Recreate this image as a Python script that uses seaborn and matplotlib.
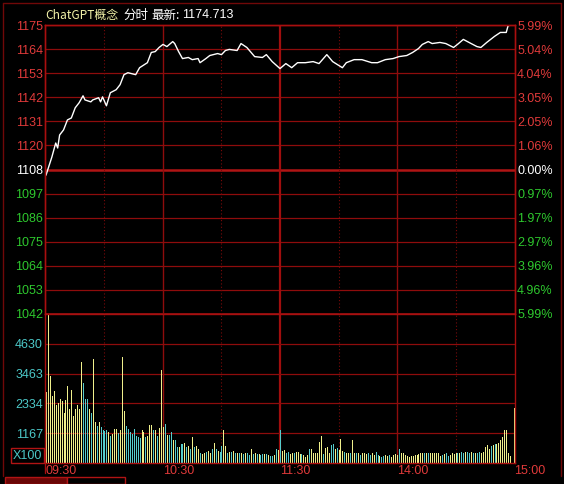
import numpy as np
import pandas as pd
import seaborn as sns
import matplotlib.pyplot as plt
from matplotlib.patches import Rectangle
from matplotlib.lines import Line2D

# ---- data ----
pre_close = 1108.33
limit_pct = 5.99
last_price = '1174.713'

price_minutes = [0, 3, 5, 6, 7, 9, 11, 13, 15, 17, 19, 20, 23, 24, 27, 28, 29, 31, 33, 36,
                 38, 40, 42, 46, 48, 52, 54, 56, 58, 60, 62, 65, 66, 68, 70, 73, 75, 78, 79, 82,
                 84, 88, 90, 92, 94, 98, 100, 103, 107, 111, 113, 116, 120, 123, 126, 129, 133, 137, 140, 144,
                 147, 152, 154, 158, 162, 167, 170, 174, 178, 181, 185, 188, 191, 193, 196, 198, 202, 205, 209, 211,
                 214, 218, 221, 223, 226, 230, 233, 236, 237, 240]
prices = [1105.7, 1114.0, 1120.5, 1118.2, 1124.2, 1126.5, 1131.1, 1132.0, 1136.7, 1139.0,
          1142.2, 1140.3, 1139.4, 1140.3, 1141.3, 1139.4, 1141.7, 1137.6, 1143.6, 1145.0,
          1147.3, 1151.9, 1152.8, 1151.9, 1155.1, 1157.4, 1162.1, 1162.5, 1164.4, 1165.8,
          1164.8, 1167.1, 1166.2, 1162.5, 1159.3, 1159.8, 1158.8, 1159.3, 1157.4, 1159.3,
          1160.7, 1161.6, 1161.1, 1163.0, 1163.5, 1163.0, 1166.2, 1164.4, 1160.2, 1159.8,
          1161.1, 1157.9, 1154.7, 1157.0, 1155.1, 1157.4, 1157.4, 1157.9, 1157.0, 1161.1,
          1157.9, 1155.1, 1157.4, 1158.8, 1158.8, 1157.4, 1157.4, 1158.8, 1159.3, 1160.2,
          1160.7, 1162.1, 1163.9, 1165.8, 1167.1, 1166.2, 1166.7, 1166.2, 1164.4, 1165.8,
          1168.1, 1166.2, 1164.8, 1164.4, 1166.7, 1169.5, 1171.3, 1171.3, 1174.5, 1174.713]

volumes = [2740, 5790, 3370, 2610, 2800, 2250, 2350, 2500, 2420, 1950,
           2450, 3010, 2090, 2850, 1820, 2110, 2250, 2110, 3910, 3120,
           2500, 2500, 2110, 1950, 4030, 1610, 1450, 1580, 1400, 1290,
           1230, 1270, 1190, 1060, 1140, 1320, 1320, 1160, 1270, 4130,
           2010, 1430, 1320, 1190, 1140, 1320, 1060, 1000, 960, 1270,
           1190, 1000, 1030, 1490, 1490, 1290, 1270, 1060, 1350, 3630,
           1400, 1500, 1090, 1100, 1210, 900, 900, 630, 630, 740,
           720, 770, 630, 660, 530, 1000, 630, 660, 530, 370,
           340, 370, 440, 450, 400, 530, 770, 530, 475, 440,
           660, 1290, 660, 370, 420, 440, 475, 370, 400, 370,
           370, 340, 370, 370, 300, 530, 340, 400, 340, 340,
           300, 340, 340, 340, 300, 260, 290, 300, 550, 500,
           1290, 475, 500, 370, 440, 340, 400, 370, 420, 440,
           340, 340, 300, 240, 300, 550, 530, 370, 370, 370,
           830, 1060, 340, 570, 610, 400, 690, 740, 530, 580,
           500, 920, 475, 440, 400, 400, 400, 900, 400, 370,
           370, 300, 370, 400, 340, 370, 300, 370, 300, 420,
           300, 260, 240, 260, 300, 260, 300, 240, 300, 340,
           300, 530, 370, 400, 300, 260, 240, 260, 260, 300,
           300, 340, 370, 370, 400, 370, 400, 400, 370, 370,
           370, 370, 260, 300, 340, 370, 260, 300, 370, 340,
           400, 370, 400, 440, 400, 440, 440, 400, 440, 400,
           400, 400, 440, 400, 440, 630, 700, 530, 660, 700,
           740, 740, 790, 900, 1000, 1270, 1270, 370, 270, 0,
           2150]
# y = rising minute (yellow), c = falling minute (cyan)
bar_dirs = ("yyyyyyyyyy" "yyyyyyyyyc" "ccycyycycc" "ccycyyycyy" "yccccccccy"
            "ycyyycycyy" "ycyccyccyc" "cycycycyyc" "yycyycycyc" "cyycycycyc"
            "ycyccycycy" "ccycyccycy" "cyyccyycyy" "ycyyycyyyy" "yycyyyccyc"
            "yyycyycyyc" "ycyyyccyyc" "cyccyycyyy" "ycyyyyyyyy" "yyyycycyyy"
            "yyycyccyyy" "ycyccyccyc" "yccyyyyycy" "cyyyyyyyyy" "y")

price_labels = ['1175', '1164', '1153', '1142', '1131', '1120', '1108',
                '1097', '1086', '1075', '1064', '1053', '1042']
pct_labels = ['5.99%', '5.04%', '4.04%', '3.05%', '2.05%', '1.06%', '0.00%',
              '0.97%', '1.97%', '2.97%', '3.96%', '4.96%', '5.99%']
vol_labels = ['1167', '2334', '3463', '4630']
vol_max = 5790
time_ticks = [0, 60, 120, 180, 240]
time_labels = ['09:30', '10:30', '11:30', '14:00', '15:00']

# ---- style ----
RED_GRID = '#8e0c0c'
RED_TXT = '#e03a3a'
GREEN_TXT = '#2ec82e'
CYAN_TXT = '#4cc8c8'
YELLOW_BAR = '#f0f08c'
CYAN_BAR = '#56cccc'

sns.set_style('dark', {'axes.facecolor': 'black', 'figure.facecolor': 'black'})
plt.rcParams['font.family'] = ['Liberation Sans', 'DejaVu Sans']

fig = plt.figure(figsize=(5.64, 4.84), dpi=100, facecolor='black')
W, H = 564, 484
ax1 = fig.add_axes([45 / W, 1 - 314 / H, 470 / W, 289 / H])
ax2 = fig.add_axes([45 / W, 1 - 463 / H, 470 / W, 149 / H], sharex=ax1)

lo = pre_close * (1 - limit_pct / 100)
hi = pre_close * (1 + limit_pct / 100)
levels = np.linspace(hi, lo, 13)

# price panel
for i, lv in enumerate(levels):
    lw = 1.8 if i in (6, 12) else 0.9
    col = '#b01414' if i in (6, 12) else RED_GRID
    ax1.axhline(lv, color=col, lw=lw, zorder=0.5)
for ax in (ax1, ax2):
    for m in (30, 90, 150, 210):
        ax.axvline(m, color='#7a0a0a', lw=0.8, ls=(0, (1, 2)), zorder=0.5)
    for m in (60, 180):
        ax.axvline(m, color=RED_GRID, lw=1.0, zorder=0.5)
    ax.axvline(120, color='#a00e0e', lw=1.6, zorder=0.5)

sns.lineplot(x=price_minutes, y=prices, ax=ax1, color='white', linewidth=1.0, zorder=3)
ax1.set_ylim(lo, hi)
ax1.set_xlim(-0.5, 240.5)
ax1.set_yticks(levels, price_labels)
colors_lbl = [RED_TXT] * 6 + ['white'] + [GREEN_TXT] * 6
for t, c in zip(ax1.get_yticklabels(), colors_lbl):
    t.set_color(c)
ax1.tick_params(axis='y', length=0, pad=1.5, labelsize=9)
ax1.tick_params(axis='x', length=0, labelbottom=False)
ax1.set_xlabel('')
ax1.set_ylabel('')

axr = ax1.twinx()
axr.set_ylim(lo, hi)
axr.set_yticks(levels, pct_labels)
for t, c in zip(axr.get_yticklabels(), colors_lbl):
    t.set_color(c)
axr.tick_params(axis='y', length=0, pad=1.5, labelsize=9)
axr.grid(False)

# volume panel: one-pixel bars, yellow for up minutes, cyan for down minutes
vol_df = pd.DataFrame({'minute': np.arange(len(volumes)), 'volume': volumes,
                       'dir': list(bar_dirs)})
bar_colors = vol_df['dir'].map({'y': YELLOW_BAR, 'c': CYAN_BAR})
ax2.vlines(vol_df['minute'], 0, vol_df['volume'], colors=bar_colors,
           linewidth=0.5, antialiased=False, zorder=2)
ax2.set_ylim(0, vol_max)
ax2.set_xlim(-0.5, 240.5)
vol_pos = [vol_max * k / 5 for k in range(1, 5)]
for v in vol_pos:
    ax2.axhline(v, color=RED_GRID, lw=0.9, zorder=0.5)
ax2.set_yticks(vol_pos, vol_labels)
for t in ax2.get_yticklabels():
    t.set_color(CYAN_TXT)
ax2.set_xticks(time_ticks, time_labels)
for t in ax2.get_xticklabels():
    t.set_color(RED_TXT)
    t.set_ha('left')
ax2.tick_params(axis='y', length=0, pad=1.5, labelsize=9)
ax2.tick_params(axis='x', length=0, pad=1.5, labelsize=9)
ax2.set_xlabel('')
ax2.set_ylabel('')
ax2.text(-0.006, 0.05, 'X100', transform=ax2.transAxes, ha='right', va='center',
         color=CYAN_TXT, fontsize=9,
         bbox=dict(facecolor='black', edgecolor='#b01414', pad=1.2, lw=1))

for ax in (ax1, ax2, axr):
    for s in ax.spines.values():
        s.set_color('#a80f0f')
        s.set_linewidth(1.0)
ax1.spines['bottom'].set_visible(False)
ax2.spines['top'].set_visible(False)

# title line
cjk = ['Noto Sans CJK SC', 'DejaVu Sans']
ty = 1 - 15 / H
fig.text(45 / W, ty, 'ChatGPT概念', color='#f2f2a8', fontsize=8.6, family=cjk, va='center')
fig.text(123 / W, ty, '分时', color='white', fontsize=9, family=cjk, va='center')
fig.text(151 / W, ty, '最新:', color='white', fontsize=9, family=cjk, va='center')
fig.text(182 / W, ty, last_price, color='white', fontsize=9, va='center')

# outer frame and bottom tabs
frame = '#700808'
fig.add_artist(Line2D([3 / W, 561 / W], [1 - 3 / H, 1 - 3 / H], color=frame, lw=1))
fig.add_artist(Line2D([3 / W, 3 / W], [1 - 3 / H, 1 - 476 / H], color=frame, lw=1))
fig.add_artist(Line2D([561 / W, 561 / W], [1 - 3 / H, 1 - 476 / H], color=frame, lw=1))
fig.add_artist(Line2D([45 / W, 45 / W], [1 - 463 / H, 1 - 473 / H], color='#a80f0f', lw=1))
fig.add_artist(Rectangle((5 / W, 0), 62 / W, 7 / H, facecolor='#6a0606',
                         edgecolor='#b01414', lw=1, transform=fig.transFigure))
fig.add_artist(Rectangle((67 / W, 0), 58 / W, 7 / H, facecolor='black',
                         edgecolor='#b01414', lw=1, transform=fig.transFigure))

fig.savefig('out.png', dpi=100, facecolor='black')
